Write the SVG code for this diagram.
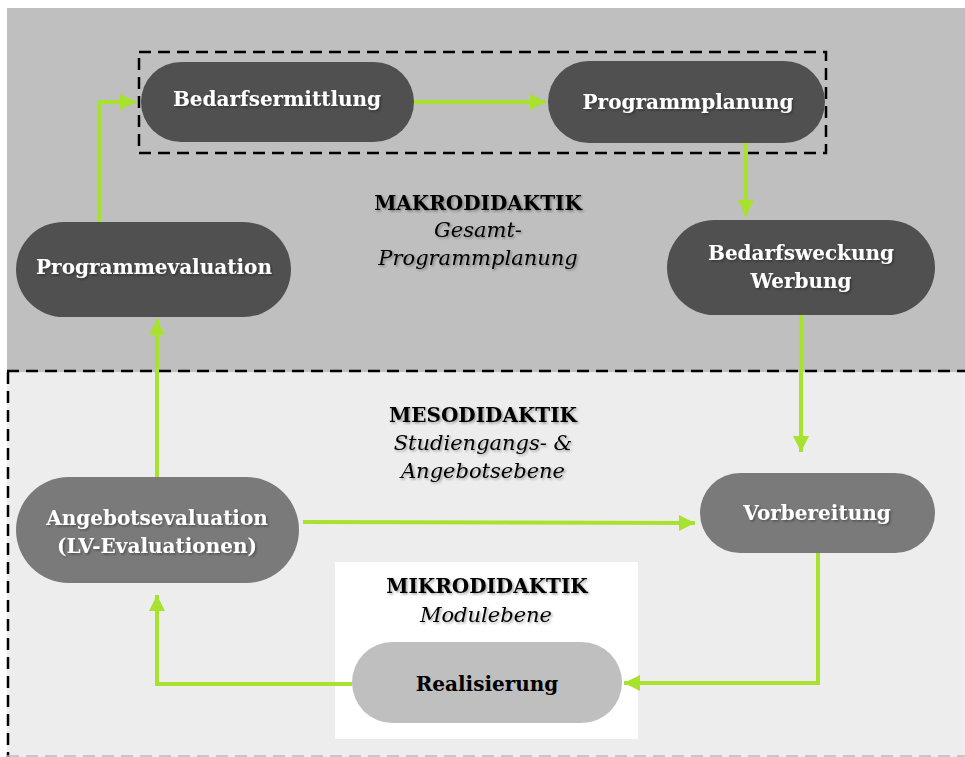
<svg xmlns="http://www.w3.org/2000/svg" width="965" height="757" viewBox="0 0 965 757">
<defs>
<style>
.lbl{font-family:"DejaVu Serif","Liberation Serif",serif;font-size:20px;text-anchor:middle}
.b{font-weight:bold}
.i{font-style:italic;font-size:21px}
.wt{fill:#ffffff}
.bk{fill:#000000}
.dark{fill:#505050}
.mid{fill:#7a7a7a}
.light{fill:#bfbfbf}
.con{fill:none;stroke:#a6e22e;stroke-width:4;stroke-linejoin:miter}
.dash{fill:none;stroke:#000;stroke-width:2.5;stroke-dasharray:12 7}
</style>
<marker id="ah" viewBox="0 0 10 10" refX="10" refY="5" markerWidth="4" markerHeight="4" orient="auto" markerUnits="strokeWidth">
<path d="M0,0 L10,5 L0,10 Z" fill="#a6e22e"/>
</marker>
<filter id="ts" x="-10%" y="-30%" width="120%" height="160%">
<feDropShadow dx="1.5" dy="1.5" stdDeviation="1" flood-color="#000" flood-opacity="0.35"/>
</filter>
</defs>
<rect x="0" y="0" width="965" height="757" fill="#ffffff"/>
<g id="zones">
<rect x="7" y="8" width="958" height="364" fill="#bfbfbf"/>
<rect x="7" y="372" width="958" height="385" fill="#ededed"/>
<rect x="335" y="562" width="303" height="177" fill="#ffffff"/>
<line x1="7" y1="371" x2="965" y2="371" class="dash"/>
<line x1="8" y1="372" x2="8" y2="757" class="dash"/>
<line x1="7" y1="756" x2="965" y2="756" class="dash" style="stroke:#bbbbbb;stroke-width:1.5"/>
<rect x="139" y="52" width="687" height="101" class="dash"/>
</g>
<g id="labels" filter="url(#ts)">
<text class="lbl b bk" x="478" y="210">MAKRODIDAKTIK</text>
<text class="lbl i bk" x="478" y="237">Gesamt-</text>
<text class="lbl i bk" x="478" y="265">Programmplanung</text>
<text class="lbl b bk" x="483" y="422">MESODIDAKTIK</text>
<text class="lbl i bk" x="483" y="450">Studiengangs- &amp;</text>
<text class="lbl i bk" x="483" y="478">Angebotsebene</text>
<text class="lbl b bk" x="487" y="593">MIKRODIDAKTIK</text>
<text class="lbl i bk" x="486" y="622">Modulebene</text>
</g>
<g id="connectors">
<polyline class="con" points="99,222 99,102 136,102" marker-end="url(#ah)"/>
<line class="con" x1="414" y1="102" x2="546" y2="102" marker-end="url(#ah)"/>
<line class="con" x1="746" y1="143" x2="746" y2="216" marker-end="url(#ah)"/>
<line class="con" x1="801" y1="315" x2="801" y2="452" marker-end="url(#ah)"/>
<line class="con" x1="303" y1="522" x2="695" y2="523" marker-end="url(#ah)"/>
<polyline class="con" points="818,553 818,683 624,683" marker-end="url(#ah)"/>
<polyline class="con" points="352,684 157,684 157,595" marker-end="url(#ah)"/>
<line class="con" x1="157" y1="477" x2="157" y2="319" marker-end="url(#ah)"/>
</g>
<g id="n-bedarfsermittlung">
<rect x="141" y="62" width="273" height="80" rx="40" class="dark"/>
<text class="lbl b wt" x="277" y="106" filter="url(#ts)">Bedarfsermittlung</text>
</g>
<g id="n-programmplanung">
<rect x="548" y="61" width="277" height="82" rx="41" class="dark"/>
<text class="lbl b wt" x="688" y="109" filter="url(#ts)">Programmplanung</text>
</g>
<g id="n-bedarfsweckung">
<rect x="667" y="220" width="268" height="95" rx="47.5" class="dark"/>
<text class="lbl b wt" x="801" y="260" filter="url(#ts)">Bedarfsweckung</text>
<text class="lbl b wt" x="801" y="288" filter="url(#ts)">Werbung</text>
</g>
<g id="n-programmevaluation">
<rect x="16" y="222" width="275" height="95" rx="47.5" class="dark"/>
<text class="lbl b wt" x="154" y="274" filter="url(#ts)">Programmevaluation</text>
</g>
<g id="n-angebotsevaluation">
<rect x="16" y="477" width="283" height="106" rx="53" class="mid"/>
<text class="lbl b wt" x="157" y="525" filter="url(#ts)">Angebotsevaluation</text>
<text class="lbl b wt" x="157" y="553" filter="url(#ts)">(LV-Evaluationen)</text>
</g>
<g id="n-vorbereitung">
<rect x="700" y="473" width="235" height="80" rx="40" class="mid"/>
<text class="lbl b wt" x="817" y="520" filter="url(#ts)">Vorbereitung</text>
</g>
<g id="n-realisierung">
<rect x="352" y="642" width="270" height="81" rx="40.5" class="light"/>
<text class="lbl b bk" x="487" y="691">Realisierung</text>
</g>
</svg>
